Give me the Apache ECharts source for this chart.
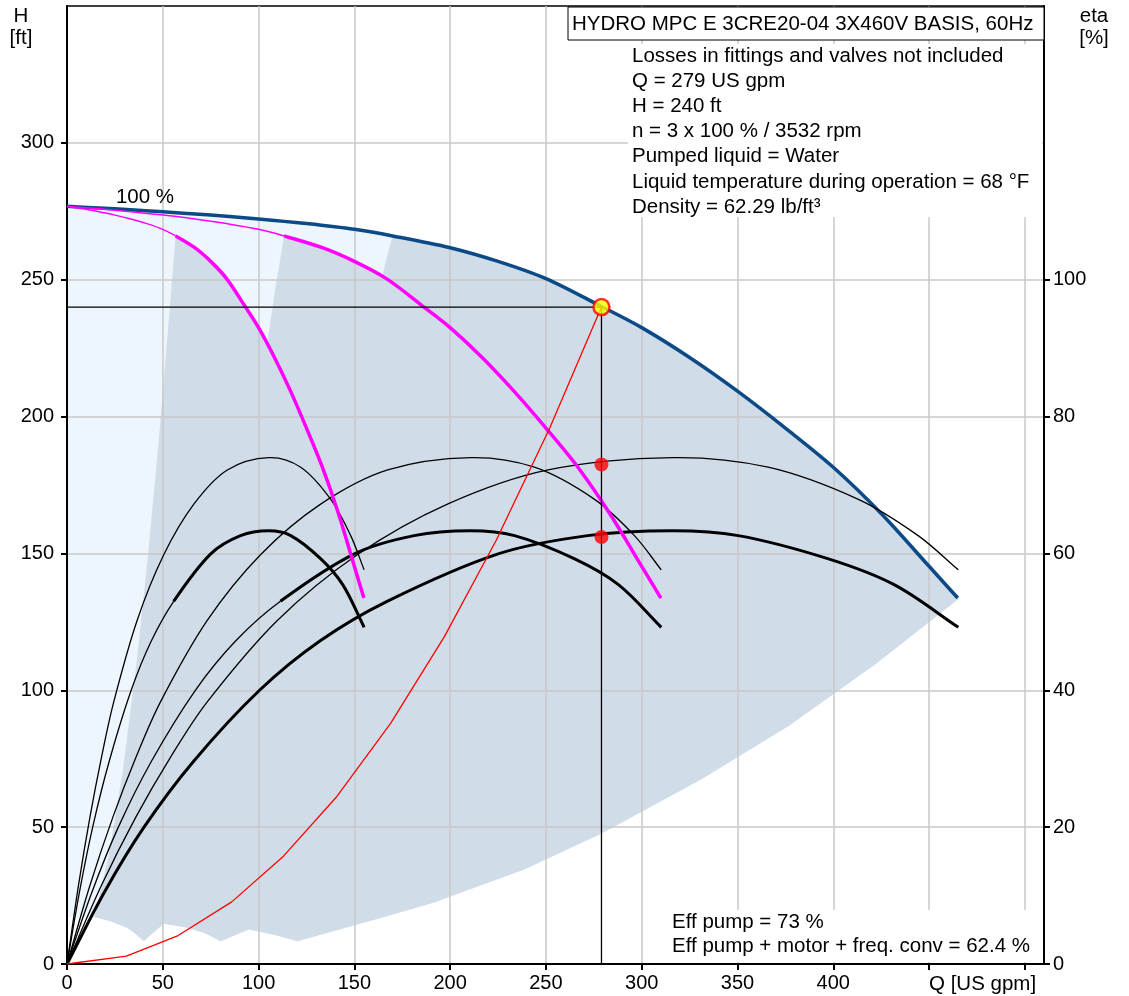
<!DOCTYPE html>
<html><head><meta charset="utf-8">
<script src="https://cdn.jsdelivr.net/npm/echarts@6/dist/echarts.min.js"></script>
<style>html,body{margin:0;padding:0;background:#fff}#c{width:1129px;height:996px}</style>
</head><body><div id="c"></div>
<script>
// ---- data (Q in US gpm, H in ft, eta in %) ----
const hTicks = [0, 50, 100, 150, 200, 250, 300];
const etaTicks = [0, 20, 40, 60, 80, 100];
const qTicks = [0, 50, 100, 150, 200, 250, 300, 350, 400];
const qTickMarks = [0, 50, 100, 150, 200, 250, 300, 350, 400, 450, 500];

// 3 pumps 100 % curve (max curve)
const maxCurve = [[0,276.8],[25,275.9],[50,274.8],[75,273.6],[100,272.2],[125,270.5],[150,268.4],[170,266.0],[200,261.7],[225,256.7],[250,250.4],[279,240.2],[300,232.5],[325,221.6],[350,209.3],[375,195.8],[400,181.5],[425,164.6],[450,145.3],[465,133.7]];
// 1 pump 100 % curve
const pump1Curve = [[0,276.8],[8.3,275.9],[16.7,274.8],[25,273.6],[33.3,272.2],[41.7,270.5],[50,268.4],[56.7,266.0],[66.7,261.7],[75,256.7],[83.3,250.4],[93,240.2],[100,232.5],[108.3,221.6],[116.7,209.3],[125,195.8],[133.3,181.5],[141.7,164.6],[150,145.3],[155,133.7]];
// 2 pumps 100 % curve
const pump2Curve = [[0,276.8],[16.7,275.9],[33.3,274.8],[50,273.6],[66.7,272.2],[83.3,270.5],[100,268.4],[113.3,266.0],[133.3,261.7],[150,256.7],[166.7,250.4],[186,240.2],[200,232.5],[216.7,221.6],[233.3,209.3],[250,195.8],[266.7,181.5],[283.3,164.6],[300,145.3],[310,133.7]];

// efficiency pump (thin)
const etaPump1 = [[0,0],[6,11.5],[12,21.5],[18,30.2],[24.4,38.3],[36.6,50.2],[50.5,59.8],[66.2,67.2],[83.7,72.2],[105.4,74],[122,72.6],[137.7,67.9],[148.1,62.6],[155.1,57.6]];
const etaPump2 = [[0,0],[12,11.5],[24,21.5],[36,30.2],[48.8,38.3],[73.2,50.2],[101,59.8],[132.4,67.2],[167.4,72.2],[210.8,74],[244,72.6],[275.4,67.9],[296.2,62.6],[310.2,57.6]];
const etaPump3 = [[0,0],[18,11.5],[36,21.5],[54,30.2],[73.2,38.3],[109.8,50.2],[151.5,59.8],[198.6,67.2],[251.1,72.2],[316.2,74],[366,72.6],[413.1,67.9],[444.3,62.6],[465.3,57.6]];
// efficiency pump + motor + freq. conv (thick inside the operating range)
const etaTot1 = [[0,0],[6.5,10.5],[13.4,20],[22,29.6],[33.5,40],[44,47.2],[55.7,53],[74.9,59.9],[90.6,62.6],[105.3,63.3],[116.8,62.6],[132.5,59.2],[144,55.4],[155.1,49.2]];
const etaTot2 = [[0,0],[13,10.5],[26.8,20],[44,29.6],[67,40],[88,47.2],[111.4,53],[149.8,59.9],[181.2,62.6],[210.6,63.3],[233.6,62.6],[265,59.2],[288,55.4],[310.2,49.2]];
const etaTot3 = [[0,0],[19.5,10.5],[40.2,20],[66,29.6],[100.5,40],[132,47.2],[167.1,53],[224.7,59.9],[271.8,62.6],[315.9,63.3],[350.4,62.6],[397.5,59.2],[432,55.4],[465.3,49.2]];

// system curve
const systemCurve = [[0,0],[31,2.9],[58,10.4],[86,22.7],[113,39.4],[141,61.3],[169,88],[197,119.6],[224,154.7],[252,195.8],[279,240]];

// operating range boundaries
const minFlow1 = [[14.3,17.2],[21.9,40],[29,70],[36.3,110],[42.4,150],[47.7,190],[52.5,230],[56.7,266.0]];
const pump1Edge = [[66.7,261.7],[75,256.7],[83.3,250.4],[93,240.2],[100,232.5],[104.5,226.6]];
const minFlow2 = [[108.7,246.6],[113.3,266.0]];
const pump2Edge = [[133.3,261.7],[150,256.7],[164.6,251.1]];
const minFlow3 = [[167,258.5],[170,266.0]];
const bottomEdge = [[14.3,17.2],[22.6,15.6],[31.4,13.2],[36,10.9],[40,8.3],[50.5,14.7],[62.7,13.2],[72,11.2],[80.2,8.3],[95,12.6],[108,10.7],[120.3,8.3],[163.8,16.8],[190.9,22.3],[238.7,34.5],[279.6,47.9],[331,67.4],[376.5,86.9],[422,109.5],[465.2,133.3]];
const lightCorner = [[0,17.2]];

// duty point
const duty = [[279,240]];
const dutyEta = [[279,73],[279,62.4]];
const dutyLines = [[0,240],[279,240],[279,0]];

const infoLines = ['Losses in fittings and valves not included','Q = 279 US gpm','H = 240 ft','n = 3 x 100 % / 3532 rpm','Pumped liquid = Water','Liquid temperature during operation = 68 °F','Density = 62.29 lb/ft³'];
const effLines = ['Eff pump = 73 %','Eff pump + motor + freq. conv = 62.4 %'];
const titleText = 'HYDRO MPC E 3CRE20-04 3X460V BASIS, 60Hz';

// ---- build ----
const FONT = "'Liberation Sans', Arial, sans-serif";
const TXT = '20.5px ' + FONT;
const darkPoly = [].concat(minFlow1, pump1Edge, minFlow2, pump2Edge, minFlow3,
  maxCurve.filter(p => p[0] > 170), bottomEdge.slice().reverse());
const lightPoly = [].concat(maxCurve, bottomEdge.slice().reverse(), lightCorner);

function poly(points, color) {
  return {type:'custom', coordinateSystem:'cartesian2d', xAxisIndex:0, yAxisIndex:0, z:1, silent:true,
    data:[[0,0]], clip:true,
    renderItem: function(params, api){
      return {type:'polygon', shape:{points: points.map(p => api.coord(p))}, style:{fill: color}};
    }};
}
// smooth curve through the data points (chord-length Catmull-Rom in pixel space)
function curve(points, from, to, color, width, z, yIdx) {
  return {type:'custom', coordinateSystem:'cartesian2d', xAxisIndex:0, yAxisIndex:yIdx||0, z:z, silent:true,
    data:[[0,0]], clip:true,
    renderItem: function(params, api){
      const P = points.map(p => api.coord(p));
      const n = P.length, d = [];
      for (let i = 0; i < n - 1; i++) d.push(Math.hypot(P[i+1][0]-P[i][0], P[i+1][1]-P[i][1]) || 1e-6);
      const T = P.map((p, i) => {
        if (i === 0) return [(P[1][0]-P[0][0])/d[0], (P[1][1]-P[0][1])/d[0]];
        if (i === n-1) return [(P[n-1][0]-P[n-2][0])/d[n-2], (P[n-1][1]-P[n-2][1])/d[n-2]];
        const s = d[i-1] + d[i];
        return [(P[i+1][0]-P[i-1][0])/s, (P[i+1][1]-P[i-1][1])/s];
      });
      const e = (to === undefined ? n - 1 : to);
      let path = 'M' + P[from][0] + ',' + P[from][1];
      for (let i = from; i < e; i++) {
        const c1 = [P[i][0] + T[i][0]*d[i]/3, P[i][1] + T[i][1]*d[i]/3];
        const c2 = [P[i+1][0] - T[i+1][0]*d[i]/3, P[i+1][1] - T[i+1][1]*d[i]/3];
        path += ' C' + c1[0] + ',' + c1[1] + ' ' + c2[0] + ',' + c2[1] + ' ' + P[i+1][0] + ',' + P[i+1][1];
      }
      return {type:'path', shape:{pathData:path}, style:{stroke:color, lineWidth:width, fill:'none', lineJoin:'round'}};
    }};
}
function polyline(data, color, width, z) {
  return {type:'line', data:data, showSymbol:false, symbol:'none', silent:true, smooth:false, z:z,
    lineStyle:{color:color, width:width}, animation:false};
}

const series = [
  poly(lightPoly, '#eef6fd'),
  poly(darkPoly, '#d0dce8'),
  curve(maxCurve, 0, undefined, '#0b4a86', 3.5, 5),
  curve(etaPump1, 0, undefined, '#000', 1.3, 6, 1),
  curve(etaPump2, 0, undefined, '#000', 1.3, 6, 1),
  curve(etaPump3, 0, undefined, '#000', 1.3, 6, 1),
  curve(etaTot1, 0, 6, '#000', 1.3, 6, 1),
  curve(etaTot1, 6, undefined, '#000', 3, 6, 1),
  curve(etaTot2, 0, 6, '#000', 1.3, 6, 1),
  curve(etaTot2, 6, undefined, '#000', 3, 6, 1),
  curve(etaTot3, 0, undefined, '#000', 3, 6, 1),
  curve(pump1Curve, 0, 7, '#ff00ff', 1.5, 7),
  curve(pump1Curve, 7, undefined, '#ff00ff', 3.5, 7),
  curve(pump2Curve, 0, 7, '#ff00ff', 1.5, 7),
  curve(pump2Curve, 7, undefined, '#ff00ff', 3.5, 7),
  polyline(systemCurve, '#ff0000', 1.3, 8),
  polyline(dutyLines, '#000', 1.3, 8),
  {type:'scatter', data:dutyEta, yAxisIndex:1, symbolSize:14, z:10, silent:true,
    itemStyle:{color:'#ff0000'}},
  {type:'scatter', data:duty, yAxisIndex:0, symbolSize:16, z:10, silent:true,
    itemStyle:{color:'#ffff00', borderColor:'#ff0000', borderWidth:2.5}}
];

const axisTxt = {color:'#000', fontSize:20, fontFamily:FONT};
const option = {
  animation:false,
  backgroundColor:'#fff',
  grid:{left:67, right:85, top:6, bottom:32, show:true, borderColor:'#000', borderWidth:1.5, backgroundColor:'transparent'},
  xAxis:{type:'value', min:0, max:510, interval:50, z:3,
    axisLine:{show:true, onZero:false, lineStyle:{color:'#000', width:2}},
    axisTick:{show:true, length:6, lineStyle:{color:'#000', width:2}, customValues:qTickMarks},
    axisLabel:Object.assign({margin:9, customValues:qTicks, formatter: v => qTicks.indexOf(v) >= 0 ? String(v) : ''}, axisTxt),
    splitLine:{show:true, lineStyle:{color:'#c8c8c8', width:1.5}}},
  yAxis:[
    {type:'value', min:0, max:350, interval:50, z:3, position:'left',
      axisLine:{show:true, onZero:false, lineStyle:{color:'#000', width:2}},
      axisTick:{show:true, length:6, lineStyle:{color:'#000', width:2}, customValues:hTicks},
      axisLabel:Object.assign({margin:13, customValues:hTicks, formatter: v => hTicks.indexOf(v) >= 0 ? String(v) : ''}, axisTxt),
      splitLine:{show:true, lineStyle:{color:'#c8c8c8', width:1.5}}},
    {type:'value', min:0, max:140, interval:20, z:3, position:'right',
      axisLine:{show:true, onZero:false, lineStyle:{color:'#000', width:2}},
      axisTick:{show:true, length:6, lineStyle:{color:'#000', width:2}, customValues:etaTicks},
      axisLabel:Object.assign({margin:9, customValues:etaTicks, formatter: v => etaTicks.indexOf(v) >= 0 ? String(v) : ''}, axisTxt),
      splitLine:{show:false}}
  ],
  series: series,
  graphic: [].concat(
    [
      {type:'text', x:21, y:16, z:20, style:{text:'H', fill:'#000', font:TXT, textAlign:'center', textVerticalAlign:'middle'}},
      {type:'text', x:21, y:38, z:20, style:{text:'[ft]', fill:'#000', font:TXT, textAlign:'center', textVerticalAlign:'middle'}},
      {type:'text', x:1094, y:16, z:20, style:{text:'eta', fill:'#000', font:TXT, textAlign:'center', textVerticalAlign:'middle'}},
      {type:'text', x:1094, y:38, z:20, style:{text:'[%]', fill:'#000', font:TXT, textAlign:'center', textVerticalAlign:'middle'}},
      {type:'text', x:145, y:197, z:20, style:{text:'100 %', fill:'#000', font:TXT, textAlign:'center', textVerticalAlign:'middle'}},
      {type:'text', x:929, y:984, z:20, style:{text:'Q [US gpm]', fill:'#000', font:TXT, textAlign:'left', textVerticalAlign:'middle'}},
      {type:'rect', z:15, shape:{x:628, y:44, width:414, height:173}, style:{fill:'#fff'}},
      {type:'rect', z:15, shape:{x:668, y:910, width:374, height:52}, style:{fill:'#fff'}},
      {type:'rect', z:16, shape:{x:568, y:7, width:476, height:33}, style:{fill:'#fff', stroke:'#000', lineWidth:1}},
      {type:'text', x:572, y:24, z:20, style:{text:titleText, fill:'#000', font:TXT, textAlign:'left', textVerticalAlign:'middle'}}
    ],
    infoLines.map((t, i) => ({type:'text', x:632, y:56 + i*25.2, z:20,
      style:{text:t, fill:'#000', font:TXT, textAlign:'left', textVerticalAlign:'middle'}})),
    effLines.map((t, i) => ({type:'text', x:672, y:922 + i*24.5, z:20,
      style:{text:t, fill:'#000', font:TXT, textAlign:'left', textVerticalAlign:'middle'}}))
  )
};
const chart = echarts.init(document.getElementById('c'), null, {renderer:'canvas'});
chart.setOption(option);
</script></body></html>
